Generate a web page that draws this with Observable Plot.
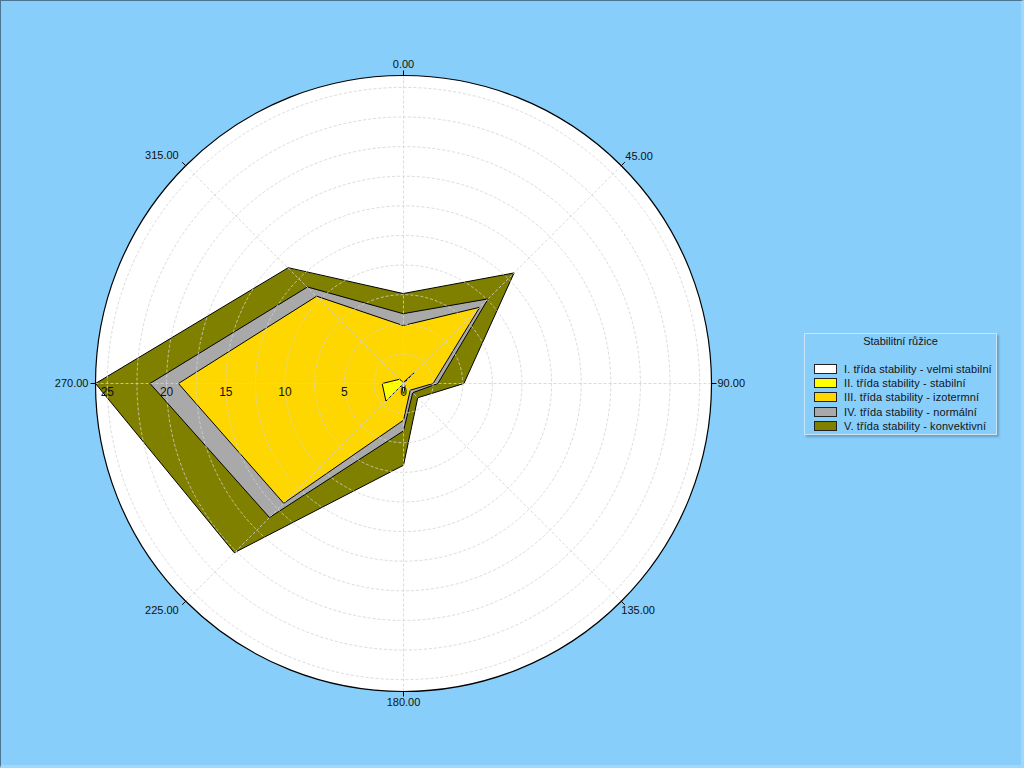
<!DOCTYPE html>
<html>
<head>
<meta charset="utf-8">
<script src="https://cdn.jsdelivr.net/npm/d3@7"></script>
<script src="https://cdn.jsdelivr.net/npm/@observablehq/plot@0.6"></script>
<style>
  html, body { margin: 0; padding: 0; background: #87CEFA; }
  #wrap { position: relative; width: 1024px; height: 768px; overflow: hidden; background: #87CEFA;
          font-family: "Liberation Sans", Arial, sans-serif; }
  #chart svg { display: block; }
  #frame { position: absolute; left: 0; top: 0; width: 1024px; height: 768px; box-sizing: border-box;
           border-top: 1px solid #4d7592; border-left: 1px solid #4d7592;
           border-right: 3px solid #9fd8fb; border-bottom: 3px solid #9fd8fb; pointer-events: none; }
  #legend { position: absolute; left: 804px; top: 333px; width: 193px; height: 102px; box-sizing: border-box;
            border: 1px solid #c8e6f8; box-shadow: 2px 2px 2px rgba(70,100,130,0.45);
            font-size: 11px; color: #151515; }
  #legend .title { position: absolute; left: 0; width: 100%; top: 0px; text-align: center; line-height: 14px; }
  #legend .row { position: absolute; left: 9px; height: 14px; line-height: 14px; white-space: nowrap; letter-spacing: 0.1px; }
  #legend .sw { display: inline-block; width: 21px; height: 8px; border: 1px solid #222; vertical-align: middle;
                margin-right: 7px; position: relative; top: -1px; }
</style>
</head>
<body>
<div id="wrap">
  <div id="chart"></div>
  <div id="legend"></div>
  <div id="frame"></div>
</div>
<script>
// ---- data ----
const directions = [0, 45, 90, 135, 180, 225, 270, 315];
const angleLabels = ["0.00", "45.00", "90.00", "135.00", "180.00", "225.00", "270.00", "315.00"];
const radialTicks = [0, 5, 10, 15, 20, 25];
const gridCircles = [2.5, 5, 7.5, 10, 12.5, 15, 17.5, 20, 22.5, 25];
const radialMax = 26;

const classNames = [
  "I. třída stability - velmi stabilní",
  "II. třída stability - stabilní",
  "III. třída stability - izotermní",
  "IV. třída stability - normální",
  "V. třída stability - konvektivní"
];
// plotted (cumulative) radius per direction, order of `directions`
const tridaI   = [0,   0,    0,   0.2,  1.0, 0.2,  0,    0];
const tridaII  = [0.1, 1.3,  0,   0,    0,   2.1,  1.8,  0.5];
const tridaIII = [4.9, 9.1,  2.5, 0.8,  3.1, 14.3, 19.0, 10.4];
const tridaIV  = [5.9, 10.1, 2.9, 1.1,  4.0, 16.0, 21.4, 11.5];
const tridaV   = [7.6, 13.2, 5.1, 1.7,  6.9, 20.2, 26.0, 13.8];
const legendTitle = "Stabilitní růžice";

// ---- styles ----
const classColors = ["#FFFFFF", "#FFFF00", "#FFD700", "#A9A9A9", "#808000"];
const series = [tridaI, tridaII, tridaIII, tridaIV, tridaV];

const cx = 403, cy = 383, R = 308;
const rad = d => d * Math.PI / 180;
const px = (a, r) => r * Math.sin(rad(a));
const py = (a, r) => r * Math.cos(rad(a));

const polyMarks = [];
for (let k = series.length - 1; k >= 0; k--) {
  const pts = directions.map((a, i) => ({a, r: series[k][i]}));
  polyMarks.push(Plot.line(pts, {
    x: d => px(d.a, d.r), y: d => py(d.a, d.r),
    curve: "linear-closed", fill: classColors[k], stroke: "black", strokeWidth: 1
  }));
}

const labelGroups = [
  {angles: [0],        anchor: "middle", dx: 0,  dy: -11},
  {angles: [45],       anchor: "start",  dx: 4,  dy: -9},
  {angles: [90],       anchor: "start",  dx: 6,  dy: 0},
  {angles: [135],      anchor: "start",  dx: 0,  dy: 9},
  {angles: [180],      anchor: "middle", dx: 0,  dy: 11},
  {angles: [225],      anchor: "end",    dx: -7, dy: 9},
  {angles: [270],      anchor: "end",    dx: -7, dy: 0},
  {angles: [315],      anchor: "end",    dx: -7, dy: -10}
];
const labelData = directions.map((a, i) => ({a, label: angleLabels[i]}));
const labelMarks = labelGroups.map(g => Plot.text(labelData.filter(d => g.angles.includes(d.a)), {
  x: d => px(d.a, radialMax), y: d => py(d.a, radialMax), text: "label",
  textAnchor: g.anchor, dx: g.dx, dy: g.dy, fill: "#111", fontSize: 11
}));

const gridStroke = "#d2d2d2";
const chart = Plot.plot({
  width: 1024, height: 768, margin: 0,
  x: {domain: [-radialMax, radialMax], range: [cx - R, cx + R], axis: null},
  y: {domain: [-radialMax, radialMax], range: [cy + R, cy - R], axis: null},
  r: {type: "linear", domain: [0, radialMax], range: [0, R]},
  style: {background: "transparent", fontFamily: "'Liberation Sans', Arial, sans-serif"},
  marks: [
    Plot.dot([radialMax], {x: () => 0, y: () => 0, r: d => d, fill: "white", stroke: "none"}),
    ...polyMarks,
    Plot.dot(gridCircles, {x: () => 0, y: () => 0, r: d => d, fill: "none", stroke: gridStroke,
      strokeOpacity: 0.8, strokeWidth: 1, strokeDasharray: "3,2"}),
    Plot.link(directions, {x1: () => 0, y1: () => 0, x2: a => px(a, radialMax), y2: a => py(a, radialMax),
      stroke: gridStroke, strokeOpacity: 0.8, strokeWidth: 1, strokeDasharray: "3,2"}),
    Plot.dot([radialMax], {x: () => 0, y: () => 0, r: d => d, fill: "none", stroke: "black", strokeWidth: 1.2}),
    Plot.link(directions, {x1: a => px(a, radialMax), y1: a => py(a, radialMax),
      x2: a => px(a, radialMax + 0.42), y2: a => py(a, radialMax + 0.42), stroke: "black", strokeWidth: 1}),
    ...labelMarks,
    Plot.text(radialTicks, {x: d => -d, y: () => 0, text: d => String(d), dy: 9, fill: "#111", fontSize: 12})
  ]
});
document.getElementById("chart").appendChild(chart);

// legend
const lg = document.getElementById("legend");
const t = document.createElement("div");
t.className = "title"; t.textContent = legendTitle; lg.appendChild(t);
classNames.forEach((name, i) => {
  const row = document.createElement("div");
  row.className = "row";
  row.style.top = (28 + i * 14.2) + "px";
  const sw = document.createElement("span");
  sw.className = "sw"; sw.style.background = classColors[i];
  row.appendChild(sw);
  row.appendChild(document.createTextNode(name));
  lg.appendChild(row);
});
</script>
</body>
</html>
